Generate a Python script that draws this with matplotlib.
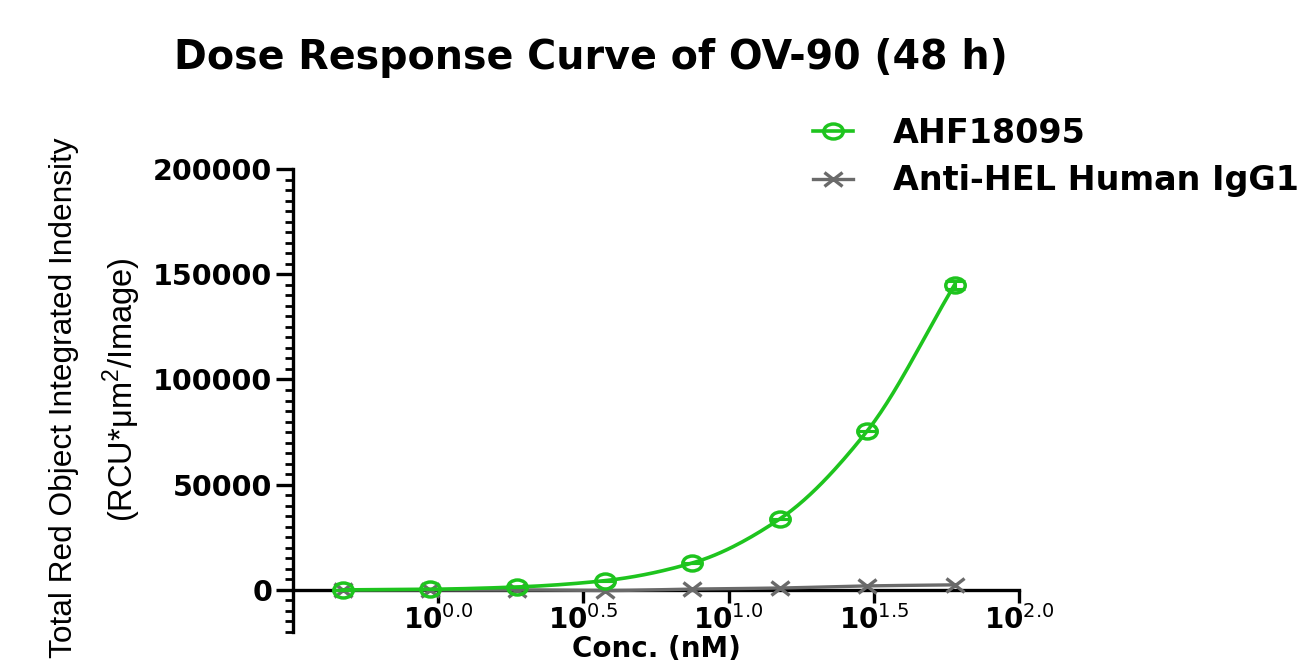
import numpy as np
import matplotlib
matplotlib.use("Agg")
import matplotlib.pyplot as plt
from matplotlib.path import Path
from matplotlib.lines import Line2D

# ---------------- data ----------------
conc_nM = [0.469, 0.9375, 1.875, 3.75, 7.5, 15, 30, 60]
ahf18095 = [0, 300, 1400, 4400, 12800, 33700, 75500, 145000]
ahf18095_err = [0, 0, 0, 0, 0, 0, 0, 1800]
anti_hel = [0, 0, 0, -300, 400, 900, 1900, 2400]
series_names = ["AHF18095", "Anti-HEL Human IgG1"]
xtick_exps = [0.0, 0.5, 1.0, 1.5, 2.0]
yticks = [0, 50000, 100000, 150000, 200000]

GREEN = "#1ec41e"
GRAY = "#6a6a6a"
ylab_family = ["Liberation Sans"]

plt.rcParams["font.family"] = ["DejaVu Sans"]
plt.rcParams["mathtext.fontset"] = "custom"
plt.rcParams["mathtext.rm"] = "DejaVu Sans"
plt.rcParams["mathtext.bf"] = "DejaVu Sans:bold"
plt.rcParams["mathtext.sf"] = "Liberation Sans"


def smooth(xs, ys, n=200):
    """Monotone cubic (Fritsch-Carlson) through points in log10(x) space."""
    lx = np.log10(np.asarray(xs, float))
    y = np.asarray(ys, float)
    h = np.diff(lx)
    d = np.diff(y) / h
    m = np.zeros_like(y)
    m[0], m[-1] = d[0], d[-1]
    for i in range(1, len(y) - 1):
        if d[i - 1] * d[i] <= 0:
            m[i] = 0
        else:
            w1 = 2 * h[i] + h[i - 1]
            w2 = h[i] + 2 * h[i - 1]
            m[i] = (w1 + w2) / (w1 / d[i - 1] + w2 / d[i])
    xx = np.linspace(lx[0], lx[-1], n)
    idx = np.clip(np.searchsorted(lx, xx) - 1, 0, len(lx) - 2)
    t = (xx - lx[idx]) / h[idx]
    h00 = 2 * t**3 - 3 * t**2 + 1
    h10 = t**3 - 2 * t**2 + t
    h01 = -2 * t**3 + 3 * t**2
    h11 = t**3 - t**2
    yy = h00 * y[idx] + h10 * h[idx] * m[idx] + h01 * y[idx + 1] + h11 * h[idx] * m[idx + 1]
    return 10**xx, yy


# stretched (wide) markers like the reference
circ = Path.unit_circle()
ell = Path(circ.vertices * np.array([1.3, 1.0]), circ.codes)
xmark = Path([(-1.3, -1), (1.3, 1), (-1.3, 1), (1.3, -1)],
             [Path.MOVETO, Path.LINETO, Path.MOVETO, Path.LINETO])

fig = plt.figure(figsize=(13.08, 6.64), dpi=100)
ax = fig.add_axes([293 / 1308, 1 - 632 / 664, (1019 - 293) / 1308, (632 - 169) / 664])

gx, gy = smooth(conc_nM, anti_hel)
ax.plot(gx, gy, color=GRAY, lw=2.4, zorder=3)
ax.plot(conc_nM, anti_hel, ls="none", marker=xmark, ms=13, mew=2.4,
        mec=GRAY, zorder=3)

sx, sy = smooth(conc_nM, ahf18095)
ax.plot(sx, sy, color=GREEN, lw=2.6, zorder=4)
ax.errorbar(conc_nM, ahf18095, yerr=ahf18095_err, ls="none", ecolor=GREEN,
            elinewidth=2.2, capsize=7, capthick=2.2, zorder=4)
ax.plot(conc_nM, ahf18095, ls="none", marker=ell, ms=14, mew=2.5,
        mec=GREEN, mfc="none", zorder=5)

ax.set_xscale("log")
ax.set_xlim(10**-0.5, 10**2.0)
ax.set_ylim(-20000, 200000)

for s in ("top", "right"):
    ax.spines[s].set_visible(False)
ax.spines["bottom"].set_position(("data", 0))
ax.spines["left"].set_linewidth(2.4)
ax.spines["bottom"].set_linewidth(2.4)

ax.set_xticks([10**e for e in xtick_exps])
ax.set_xticklabels([r"$\mathbf{10}^{\mathrm{%.1f}}$" % e for e in xtick_exps])
ax.xaxis.set_minor_locator(matplotlib.ticker.NullLocator())
ax.tick_params(axis="x", which="major", direction="out", length=9, width=2.4,
               labelsize=20, pad=2)

ax.set_yticks(yticks)
ax.set_yticklabels([str(v) for v in yticks], fontweight="bold")
ax.yaxis.set_minor_locator(matplotlib.ticker.MultipleLocator(5000))
ax.tick_params(axis="y", which="major", direction="out", length=12, width=2.4,
               labelsize=20.5, pad=3)
ax.tick_params(axis="y", which="minor", direction="out", length=6, width=2.0)

fig.text(656 / 1308, 0.5 / 664, "Conc. (nM)", ha="center", va="bottom",
         fontsize=20, fontweight="bold")

fig.text(591 / 1308, 1 - 58 / 664, "Dose Response Curve of OV-90 (48 h)",
         ha="center", va="center", fontsize=28.5, fontweight="bold")

fig.text(64 / 1308, 1 - 398 / 664, "Total Red Object Integrated Indensity",
         rotation=90, ha="center", va="center", fontsize=22.8, family=ylab_family)
fig.text(122 / 1308, 1 - 390 / 664, "(RCU*\u03bcm$^{\\mathsf{2}}$/Image)",
         rotation=90, ha="center", va="center", fontsize=23.5, family=ylab_family)

handles = [Line2D([], [], color=GREEN, lw=2.6, marker=ell, ms=14, mew=2.5,
                  mfc="none", mec=GREEN),
           Line2D([], [], color=GRAY, lw=2.4, marker=xmark, ms=13, mew=2.4,
                  mec=GRAY)]
fig.legend(handles, series_names, loc="upper left",
           bbox_to_anchor=(813 / 1308, 1 - 117 / 664), frameon=False,
           prop={"weight": "bold", "size": 24}, handlelength=1.2,
           handletextpad=1.2, labelspacing=0.43, borderpad=0,
           borderaxespad=0)

fig.savefig("out.png", dpi=100)
